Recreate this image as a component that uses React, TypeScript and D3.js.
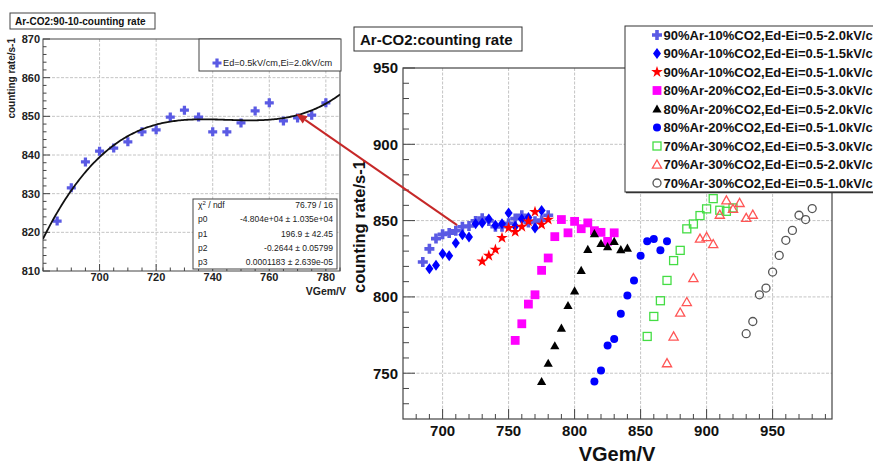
import React from "react";
import * as d3 from "d3";

const FONT = "'Liberation Sans', Arial, Helvetica, sans-serif";

// ---------- data ----------
const s1X = [685, 690, 695, 700, 705, 710, 715, 720, 725, 730, 735, 740, 745, 750, 755, 760, 765, 770, 775, 780];
const s1Y = [822.9, 831.5, 838.2, 841.0, 841.8, 843.4, 846.0, 846.5, 849.8, 851.6, 849.8, 846.0, 846.0, 848.3, 851.4, 853.5, 848.8, 849.6, 850.3, 853.5];

const s2X = [690, 695, 700, 705, 710, 715, 720, 725, 730, 735, 740, 745, 750, 755, 760, 765, 770, 775];
const s2Y = [818.5, 820.7, 828.3, 827.0, 835.4, 840.8, 839.3, 848.0, 848.5, 851.0, 847.0, 848.0, 855.0, 846.3, 851.0, 852.0, 845.2, 856.6];

const s3X = [730, 735, 740, 745, 750, 755, 760, 765, 770, 775, 780];
const s3Y = [823.3, 827.0, 831.0, 838.7, 845.2, 842.6, 846.0, 849.5, 855.7, 847.4, 850.7];

const s4X = [755, 760, 765, 770, 775, 780, 785, 790, 795, 800, 805, 810, 815, 820, 825, 830];
const s4Y = [771.5, 782.4, 795.3, 801.4, 817.4, 825.5, 839.5, 850.7, 842.0, 849.5, 844.7, 848.5, 843.4, 842.3, 836.4, 842.0];

const s5X = [775, 780, 785, 790, 795, 800, 805, 810, 815, 820, 825, 830, 835, 840];
const s5Y = [744.6, 756.6, 768.0, 779.6, 794.4, 804.0, 817.4, 831.2, 841.5, 835.0, 833.0, 836.4, 831.0, 832.0];

const s6X = [815, 820, 825, 830, 835, 840, 845, 850, 855, 860, 865, 870];
const s6Y = [744.6, 751.8, 768.2, 772.4, 789.0, 801.0, 810.8, 827.0, 836.4, 838.0, 830.5, 836.4];

const s7X = [855, 860, 865, 870, 875, 880, 885, 890, 895, 900, 905, 910, 915, 920];
const s7Y = [774.1, 787.2, 797.5, 810.8, 823.8, 830.5, 844.6, 847.8, 853.3, 857.7, 864.4, 856.8, 856.1, 858.3];

const s8X = [870, 875, 880, 885, 890, 895, 900, 905, 910, 915, 920, 925, 930, 935];
const s8Y = [756.6, 774.1, 789.8, 796.7, 812.4, 838.2, 839.3, 834.7, 853.9, 863.3, 857.7, 861.6, 851.8, 853.9];

const s9X = [930, 935, 940, 945, 950, 955, 960, 965, 970, 975, 980];
const s9Y = [775.9, 783.9, 801.4, 805.8, 816.3, 827.2, 837.1, 843.6, 853.5, 850.7, 857.9];

const legendLabels = [
  "90%Ar-10%CO2,Ed-Ei=0.5-2.0kV/cm",
  "90%Ar-10%CO2,Ed-Ei=0.5-1.5kV/cm",
  "90%Ar-10%CO2,Ed-Ei=0.5-1.0kV/cm",
  "80%Ar-20%CO2,Ed-Ei=0.5-3.0kV/cm",
  "80%Ar-20%CO2,Ed-Ei=0.5-2.0kV/cm",
  "80%Ar-20%CO2,Ed-Ei=0.5-1.0kV/cm",
  "70%Ar-30%CO2,Ed-Ei=0.5-3.0kV/cm",
  "70%Ar-30%CO2,Ed-Ei=0.5-2.0kV/cm",
  "70%Ar-30%CO2,Ed-Ei=0.5-1.0kV/cm",
];
const markerTypes = ["cross", "diamond", "star", "square", "triangle", "circle", "osquare", "otriangle", "ocircle"];
const markerColors = ["#5a5ae4", "#0000ff", "#ff0000", "#ff00ff", "#000000", "#0000ff", "#44dd44", "#ff5555", "#555555"];

const mainXTicks = [700, 750, 800, 850, 900, 950];
const mainYTicks = [750, 800, 850, 900, 950];
const insetXTicks = [700, 720, 740, 760, 780];
const insetYTicks = [810, 820, 830, 840, 850, 860, 870];

const statsLabels = ["p0", "p1", "p2", "p3"];
const statsValues = ["-4.804e+04 \u00b1 1.035e+04", "196.9 \u00b1 42.45", "-0.2644 \u00b1 0.05799", "0.0001183 \u00b1 2.639e-05"];
const chi2Value = "76.79 / 16";

// ---------- helpers ----------
function cubicFit(xs: number[], ys: number[], x0: number, sc: number) {
  const A = [0, 1, 2, 3].map(() => [0, 0, 0, 0]);
  const b = [0, 0, 0, 0];
  xs.forEach((x, i) => {
    const t = (x - x0) / sc;
    const p = [1, t, t * t, t * t * t];
    for (let j = 0; j < 4; j++) {
      b[j] += p[j] * ys[i];
      for (let k = 0; k < 4; k++) A[j][k] += p[j] * p[k];
    }
  });
  for (let c = 0; c < 4; c++) {
    let piv = c;
    for (let r = c + 1; r < 4; r++) if (Math.abs(A[r][c]) > Math.abs(A[piv][c])) piv = r;
    [A[c], A[piv]] = [A[piv], A[c]];
    [b[c], b[piv]] = [b[piv], b[c]];
    for (let r = c + 1; r < 4; r++) {
      const f = A[r][c] / A[c][c];
      for (let k = c; k < 4; k++) A[r][k] -= f * A[c][k];
      b[r] -= f * b[c];
    }
  }
  const coef = [0, 0, 0, 0];
  for (let r = 3; r >= 0; r--) {
    let s = b[r];
    for (let k = r + 1; k < 4; k++) s -= A[r][k] * coef[k];
    coef[r] = s / A[r][r];
  }
  return (x: number) => {
    const t = (x - x0) / sc;
    return coef[0] + coef[1] * t + coef[2] * t * t + coef[3] * t * t * t;
  };
}

function Marker({ type, x, y, s, color }: { type: string; x: number; y: number; s: number; color: string }) {
  switch (type) {
    case "cross": {
      const h = s / 2, w = s * 0.18;
      const d = `M${x - w},${y - h}H${x + w}V${y - w}H${x + h}V${y + w}H${x + w}V${y + h}H${x - w}V${y + w}H${x - h}V${y - w}H${x - w}Z`;
      return <path d={d} fill={color} />;
    }
    case "diamond": {
      const h = s * 0.55, w = s * 0.4;
      return <polygon points={`${x},${y - h} ${x + w},${y} ${x},${y + h} ${x - w},${y}`} fill={color} />;
    }
    case "star": {
      const d = d3.symbol(d3.symbolStar, s * s * 0.42)() as string;
      return <path d={d} transform={`translate(${x},${y})`} fill={color} />;
    }
    case "square": {
      const a = s * 0.88;
      return <rect x={x - a / 2} y={y - a / 2} width={a} height={a} fill={color} />;
    }
    case "triangle": {
      const w = s * 0.46, h = s * 0.45;
      return <polygon points={`${x},${y - h} ${x + w},${y + h * 0.8} ${x - w},${y + h * 0.8}`} fill={color} />;
    }
    case "circle":
      return <circle cx={x} cy={y} r={s * 0.4} fill={color} />;
    case "osquare": {
      const a = s * 0.8;
      return <rect x={x - a / 2} y={y - a / 2} width={a} height={a} fill="none" stroke={color} strokeWidth={1.3} />;
    }
    case "otriangle": {
      const w = s * 0.46, h = s * 0.45;
      return <polygon points={`${x},${y - h} ${x + w},${y + h * 0.8} ${x - w},${y + h * 0.8}`} fill="none" stroke={color} strokeWidth={1.3} />;
    }
    case "ocircle":
      return <circle cx={x} cy={y} r={s * 0.4} fill="none" stroke={color} strokeWidth={1.3} />;
  }
  return null;
}

export default function App() {
  const mx = d3.scaleLinear().domain([670, 995]).range([403, 832]);
  const my = d3.scaleLinear().domain([720, 950]).range([419, 68]);
  const ix = d3.scaleLinear().domain([680, 785]).range([43, 340]);
  const iy = d3.scaleLinear().domain([810, 870]).range([271, 39]);

  const seriesX = [s1X, s2X, s3X, s4X, s5X, s6X, s7X, s8X, s9X];
  const seriesY = [s1Y, s2Y, s3Y, s4Y, s5Y, s6Y, s7Y, s8Y, s9Y];

  const fit = cubicFit(s1X, s1Y, 732.5, 50);
  const fitLine = d3
    .line<number>()
    .x((v) => ix(v))
    .y((v) => iy(fit(v)));
  const fitXs = d3.range(680, 785.01, 0.5);

  const axisColor = "#444";
  const gridColor = "#c4c4c4";

  const mainMinorX = d3.range(680, 995, 10);
  const mainMinorY = d3.range(730, 950, 10);
  const insetMinorX = d3.range(680, 785.1, 5);
  const insetMinorY = d3.range(810, 870.1, 2);

  const ax0 = mx(711), ay0 = my(847);
  const ax1 = ix(769.5), ay1 = iy(850.7);
  const ang = Math.atan2(ay1 - ay0, ax1 - ax0);
  const ah = 11, aw = 4.5;
  const bx = ax1 - ah * Math.cos(ang), by = ay1 - ah * Math.sin(ang);
  const arrowHead = `${ax1},${ay1} ${bx + aw * Math.sin(ang)},${by - aw * Math.cos(ang)} ${bx - aw * Math.sin(ang)},${by + aw * Math.cos(ang)}`;

  const legY0 = 35, legDy = 18.5;

  return (
    <svg width={873} height={464} style={{ position: "absolute", left: 0, top: 0, background: "#fff", fontFamily: FONT }}>
      <rect x={0} y={0} width={873} height={464} fill="#fff" />
      <defs>
        <clipPath id="insetClip">
          <rect x={43} y={39} width={297} height={232} />
        </clipPath>
      </defs>

      {/* ================= MAIN PLOT ================= */}
      {mainXTicks.map((t) => (
        <line key={"gx" + t} x1={mx(t)} x2={mx(t)} y1={68} y2={419} stroke={gridColor} strokeWidth={1} strokeDasharray="3,1.5" />
      ))}
      {mainYTicks.filter((t) => t < 950).map((t) => (
        <line key={"gy" + t} x1={403} x2={832} y1={my(t)} y2={my(t)} stroke={gridColor} strokeWidth={1} strokeDasharray="3,1.5" />
      ))}
      <rect x={403} y={68} width={429} height={351} fill="none" stroke={axisColor} strokeWidth={1.2} />
      {mainXTicks.map((t) => (
        <line key={"tx" + t} x1={mx(t)} x2={mx(t)} y1={419} y2={409} stroke={axisColor} strokeWidth={1} />
      ))}
      {mainMinorX.filter((t) => !mainXTicks.includes(t)).map((t) => (
        <line key={"mtx" + t} x1={mx(t)} x2={mx(t)} y1={419} y2={414} stroke={axisColor} strokeWidth={1} />
      ))}
      {mainYTicks.map((t) => (
        <line key={"ty" + t} x1={403} x2={415} y1={my(t)} y2={my(t)} stroke={axisColor} strokeWidth={1} />
      ))}
      {mainMinorY.filter((t) => !mainYTicks.includes(t)).map((t) => (
        <line key={"mty" + t} x1={403} x2={409} y1={my(t)} y2={my(t)} stroke={axisColor} strokeWidth={1} />
      ))}
      {mainXTicks.map((t) => (
        <text key={"lx" + t} x={mx(t)} y={436} textAnchor="middle" fontSize={15} fontWeight="bold" fill="#111">{t}</text>
      ))}
      {mainYTicks.map((t) => (
        <text key={"ly" + t} x={398} y={my(t)} dy="0.36em" textAnchor="end" fontSize={15} fontWeight="bold" fill="#111">{t}</text>
      ))}
      <text x={617} y={461} textAnchor="middle" fontSize={20} fontWeight="bold" fill="#111">VGem/V</text>
      <text transform={`translate(365,226.5) rotate(-90)`} textAnchor="middle" fontSize={16.5} fontWeight="bold" fill="#111">counting rate/s-1</text>

      {seriesX.map((xs, si) =>
        xs.map((x, i) => (
          <Marker key={`m${si}-${i}`} type={markerTypes[si]} x={mx(x)} y={my(seriesY[si][i])} s={10} color={markerColors[si]} />
        ))
      )}

      {/* legend */}
      <rect x={625} y={26} width={262} height={166} fill="#fff" stroke="#333" strokeWidth={1} />
      <line x1={626} x2={873} y1={192.5} y2={192.5} stroke="#333" strokeWidth={1.5} />
      {legendLabels.map((lab, i) => (
        <g key={"leg" + i}>
          <Marker type={markerTypes[i]} x={657} y={legY0 + i * legDy} s={10} color={markerColors[i]} />
          <text x={663.5} y={legY0 + i * legDy} dy="0.36em" fontSize={13} fontWeight="bold" fill="#111">{lab}</text>
        </g>
      ))}

      <rect x={354} y={27} width={168} height={24} fill="#fff" stroke="#333" strokeWidth={1} />
      <text x={360} y={44.5} fontSize={15} fontWeight="bold" fill="#111">Ar-CO2:counting rate</text>

      {/* ================= INSET ================= */}
      {insetXTicks.map((t) => (
        <line key={"igx" + t} x1={ix(t)} x2={ix(t)} y1={39} y2={271} stroke={gridColor} strokeWidth={1} strokeDasharray="3,1.5" />
      ))}
      {insetYTicks.filter((t) => t > 810 && t < 870).map((t) => (
        <line key={"igy" + t} x1={43} x2={340} y1={iy(t)} y2={iy(t)} stroke={gridColor} strokeWidth={1} strokeDasharray="3,1.5" />
      ))}
      <rect x={43} y={39} width={297} height={232} fill="none" stroke={axisColor} strokeWidth={1} />
      {insetXTicks.map((t) => (
        <line key={"itx" + t} x1={ix(t)} x2={ix(t)} y1={271} y2={264} stroke={axisColor} strokeWidth={1} />
      ))}
      {insetMinorX.filter((t) => !insetXTicks.includes(t)).map((t) => (
        <line key={"imtx" + t} x1={ix(t)} x2={ix(t)} y1={271} y2={267.5} stroke={axisColor} strokeWidth={1} />
      ))}
      {insetYTicks.map((t) => (
        <line key={"ity" + t} x1={43} x2={50} y1={iy(t)} y2={iy(t)} stroke={axisColor} strokeWidth={1} />
      ))}
      {insetMinorY.filter((t) => !insetYTicks.includes(t)).map((t) => (
        <line key={"imty" + t} x1={43} x2={46.5} y1={iy(t)} y2={iy(t)} stroke={axisColor} strokeWidth={1} />
      ))}
      {insetXTicks.map((t) => (
        <text key={"ilx" + t} x={ix(t)} y={281} textAnchor="middle" fontSize={11} fontWeight={600} fill="#222">{t}</text>
      ))}
      {insetYTicks.map((t) => (
        <text key={"ily" + t} x={40} y={iy(t)} dy="0.36em" textAnchor="end" fontSize={11} fontWeight={600} fill="#222">{t}</text>
      ))}
      <text x={346} y={295} textAnchor="end" fontSize={10.5} fontWeight="bold" fill="#222">VGem/V</text>
      <text transform={`translate(15,38) rotate(-90)`} textAnchor="end" fontSize={10} fontWeight="bold" fill="#222">counting rate/s-1</text>

      {s1X.map((x, i) => (
        <Marker key={"in" + i} type="cross" x={ix(x)} y={iy(s1Y[i])} s={9} color={markerColors[0]} />
      ))}
      <path d={fitLine(fitXs) as string} fill="none" stroke="#111" strokeWidth={1.8} clipPath="url(#insetClip)" />

      <rect x={199} y={39} width={142} height={32} fill="#fff" stroke="#444" strokeWidth={1} />
      <Marker type="cross" x={217} y={63} s={9} color={markerColors[0]} />
      <text x={223} y={63} dy="0.36em" fontSize={9.2} fill="#222">Ed=0.5kV/cm,Ei=2.0kV/cm</text>

      <rect x={193} y={199} width={144} height={70} fill="#fff" stroke="#444" strokeWidth={1} />
      <text x={198} y={205} dy="0.36em" fontSize={8.5} fill="#222">
        {"\u03c7"}
        <tspan dy="-3" fontSize={6}>2</tspan>
        <tspan dy="3"> / ndf</tspan>
      </text>
      <text x={333} y={205} dy="0.36em" textAnchor="end" fontSize={8.5} fill="#222">{chi2Value}</text>
      {statsLabels.map((l, i) => (
        <g key={"st" + i}>
          <text x={198} y={219.3 + i * 14.3} dy="0.36em" fontSize={8.5} fill="#222">{l}</text>
          <text x={333} y={219.3 + i * 14.3} dy="0.36em" textAnchor="end" fontSize={8.5} fill="#222">{statsValues[i]}</text>
        </g>
      ))}

      <rect x={10} y={13} width={145} height={16} fill="#fff" stroke="#444" strokeWidth={1} />
      <text x={15} y={25} fontSize={10} fontWeight="bold" fill="#111">Ar-CO2:90-10-counting rate</text>

      <line x1={ax0} y1={ay0} x2={bx} y2={by} stroke="#c62828" strokeWidth={2} />
      <polygon points={arrowHead} fill="#c62828" />
    </svg>
  );
}
